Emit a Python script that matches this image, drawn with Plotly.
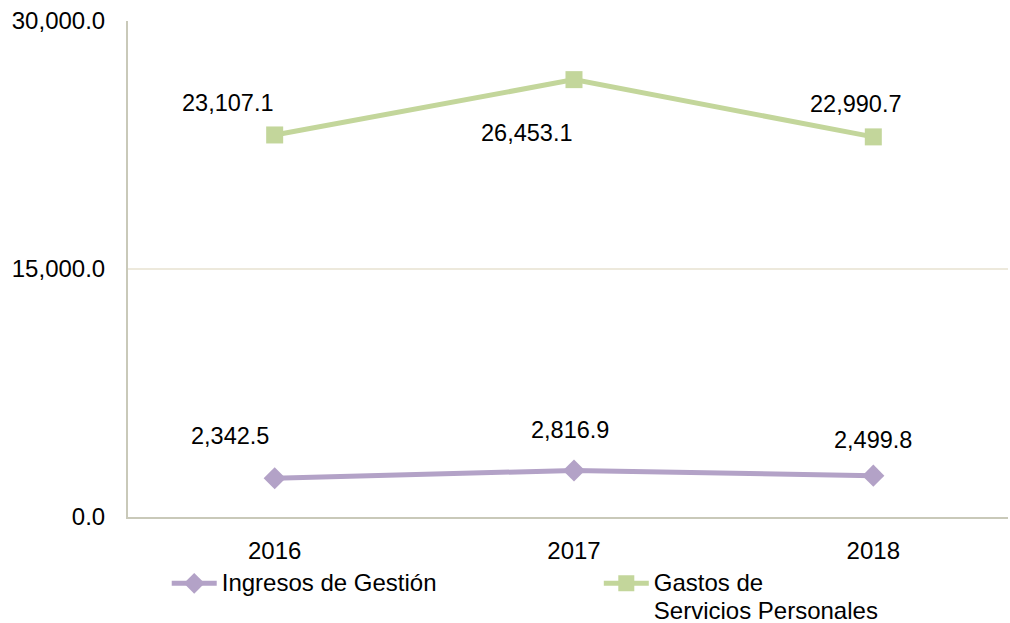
import plotly.graph_objects as go

years = ["2016", "2017", "2018"]
ingresos = [2342.5, 2816.9, 2499.8]
gastos = [23107.1, 26453.1, 22990.7]

# label offsets (pixels) per point
ing_shift = [(-45, 42), (-4, 40), (0, 36)]
gas_shift = [(-47, 32), (-47, -53), (-18, 33)]

PURPLE = "#B3A2C7"
GREEN = "#C3D69B"
FONT = "Liberation Sans, Arial, sans-serif"


def legend_label(text):
    # larger glyphs on a tighter line pitch
    return f"<span style='font-size:24px'>{text}</span>"


fig = go.Figure()
fig.add_trace(go.Scatter(
    x=years, y=ingresos, name=legend_label("Ingresos de Gestión"), mode="lines+markers",
    line=dict(color=PURPLE, width=5),
    marker=dict(symbol="diamond", size=17, color=PURPLE),
    legend="legend",
))
fig.add_trace(go.Scatter(
    x=years, y=gastos, name=legend_label("Gastos de<br>Servicios Personales"),
    mode="lines+markers",
    line=dict(color=GREEN, width=5),
    marker=dict(symbol="square", size=17, color=GREEN),
    legend="legend2",
))

# value labels; category positions addressed by index
for series, shifts in ((ingresos, ing_shift), (gastos, gas_shift)):
    for i, (v, (dx, dy)) in enumerate(zip(series, shifts)):
        fig.add_annotation(x=i, y=v, xref="x", yref="y", text=f"{v:,.1f}",
                           showarrow=False, xshift=dx, yshift=dy,
                           font=dict(family=FONT, size=23.5, color="#000000"))

legend_style = dict(orientation="h", xanchor="left", font=dict(family=FONT, size=21),
                    itemwidth=45, valign="top", bgcolor="rgba(0,0,0,0)")

fig.update_layout(
    width=1010, height=623,
    margin=dict(l=128, r=2, t=21, b=106, autoexpand=False),
    paper_bgcolor="white", plot_bgcolor="white",
    font=dict(family=FONT, size=24, color="#000000"),
    showlegend=True,
    legend=dict(x=0.044, y=-0.093, yanchor="top", **legend_style),
    legend2=dict(x=0.535, y=-0.093, yanchor="top", **legend_style),
)
fig.update_xaxes(type="category", range=[-0.49, 2.45], showgrid=False,
                 showline=True, linecolor="#C9C9B9", linewidth=2,
                 ticks="", tickfont=dict(size=24), ticklabelstandoff=11)
fig.update_yaxes(range=[0, 30000], tickvals=[0, 15000, 30000],
                 tickformat=",.1f", showgrid=True, gridcolor="#EDE9DC", gridwidth=2,
                 showline=True, linecolor="#C9C9B9", linewidth=2, zeroline=False,
                 ticks="", tickfont=dict(size=24), ticklabelstandoff=16)

fig.write_html("out.html")
